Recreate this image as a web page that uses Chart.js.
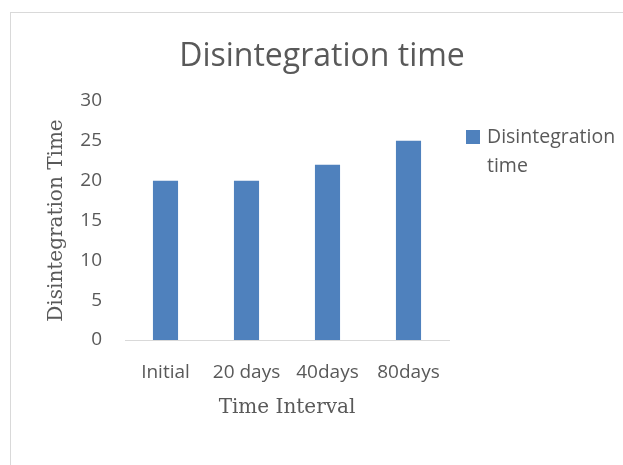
<!DOCTYPE html>
<html>
<head>
<meta charset="utf-8">
<script src="https://cdn.jsdelivr.net/npm/chart.js@4"></script>
<style>
  html, body { margin: 0; padding: 0; background: #fff; }
  #wrap { width: 623px; height: 465px; }
</style>
</head>
<body>
<div id="wrap"><canvas id="chart" width="623" height="465"></canvas></div>
<script>
const categories = ['Initial', '20 days', '40days', '80days'];
const disintegration = [20, 20, 22, 25];
const yTicks = [0, 5, 10, 15, 20, 25, 30];

const TEXT = '#595959';
const BAR = '#4f81bd';
const SANS = '"Open Sans", Lato, sans-serif';
const SERIF = '"DejaVu Serif", serif';

// light frame around the chart, plus the centred title
const framePlugin = {
  id: 'frame',
  beforeDraw(chart) {
    const ctx = chart.ctx;
    ctx.save();
    ctx.fillStyle = '#fff';
    ctx.fillRect(0, 0, chart.width, chart.height);
    ctx.strokeStyle = '#d9d9d9';
    ctx.lineWidth = 1;
    ctx.strokeRect(10.5, 12.5, 700, 600);
    ctx.fillStyle = TEXT;
    ctx.font = '32px ' + SANS;
    ctx.textAlign = 'center';
    ctx.textBaseline = 'middle';
    ctx.fillText('Disintegration time', 322, 57);
    ctx.restore();
  },
};

// legend with wrapped text on the right
const sideLegend = {
  id: 'sideLegend',
  afterDraw(chart) {
    const ctx = chart.ctx;
    const ds = chart.data.datasets[0];
    ctx.save();
    ctx.fillStyle = ds.backgroundColor;
    ctx.fillRect(466, 130, 14, 14);
    ctx.fillStyle = TEXT;
    ctx.font = '19.5px ' + SANS;
    ctx.textBaseline = 'middle';
    ctx.textAlign = 'left';
    ds.label.split(' ').forEach((line, i) => {
      ctx.fillText(line, 487, 137 + i * 29);
    });
    ctx.restore();
  },
};

new Chart(document.getElementById('chart').getContext('2d'), {
  type: 'bar',
  data: {
    labels: categories,
    datasets: [{
      label: 'Disintegration time',
      data: disintegration,
      backgroundColor: BAR,
      borderWidth: 0,
      categoryPercentage: 1,
      barPercentage: 0.31,
    }],
  },
  options: {
    responsive: false,
    animation: false,
    layout: { padding: { left: 0, right: 174, top: 101, bottom: 0 } },
    plugins: {
      legend: { display: false },
      tooltip: { enabled: false },
      title: { display: false },
    },
    scales: {
      x: {
        afterFit: (scale) => { scale.height = 125; },
        grid: { display: false, drawTicks: false },
        border: { display: true, color: '#d9d9d9', width: 1 },
        ticks: { color: TEXT, font: { family: SANS, size: 19 }, padding: 21, maxRotation: 0 },
        title: {
          display: true,
          text: 'Time Interval',
          color: TEXT,
          font: { family: SERIF, size: 20 },
          padding: { top: 0, bottom: 45 },
        },
      },
      y: {
        min: 0,
        max: 30,
        afterFit: (scale) => { scale.width = 125; },
        afterBuildTicks: (scale) => { scale.ticks = yTicks.map(v => ({ value: v })); },
        grid: { display: false, drawTicks: false },
        border: { display: false },
        ticks: { color: TEXT, font: { family: SANS, size: 19 }, padding: 23 },
        title: {
          display: true,
          text: 'Disintegration Time',
          color: TEXT,
          font: { family: SERIF, size: 20 },
          padding: { top: 45, bottom: 0 },
        },
      },
    },
  },
  plugins: [framePlugin, sideLegend],
});
</script>
</body>
</html>
